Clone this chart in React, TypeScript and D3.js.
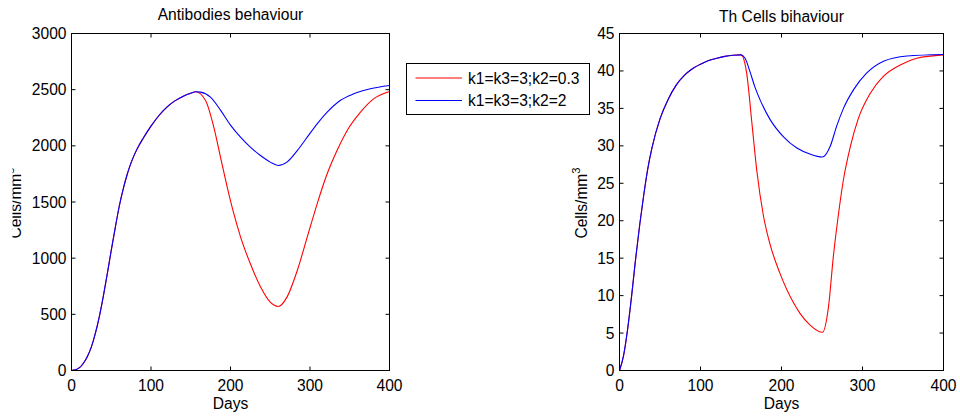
import React from "react";
import * as d3 from "d3";

// ---------- Data ----------
// Antibodies: shared rise, then divergence after ~157 days
const abSharedDays = [0, 5, 10, 15, 20, 25, 30, 35, 40, 45, 50, 55, 60, 65, 70, 75, 80, 85, 90, 100, 110, 120, 130, 140, 150, 156];
const abSharedVals = [0, 6, 25, 65, 125, 210, 330, 480, 660, 860, 1070, 1270, 1460, 1615, 1745, 1850, 1935, 2005, 2065, 2175, 2270, 2345, 2400, 2440, 2468, 2481];
const abRedDays = [168.6, 179, 187.4, 195.8, 204, 212.6, 225, 237.7, 250, 260, 271, 284, 296.5, 309, 321.6, 334, 346.8, 363.5, 380, 400];
const abRedVals = [2404, 2166, 1899, 1635, 1400, 1190, 950, 745, 608, 570, 653, 890, 1187, 1484, 1751, 1958, 2137, 2300, 2418, 2484];
const abBlueDays = [162, 174.8, 187.4, 200, 212.6, 225, 237.7, 250, 260, 271, 284, 296.5, 309, 321.6, 338, 355, 376, 400];
const abBlueVals = [2478, 2433, 2318, 2185, 2077, 1988, 1914, 1855, 1825, 1855, 1958, 2077, 2196, 2300, 2404, 2463, 2508, 2537];

// Th cells: shared rise, then divergence after 150 days
const thSharedDays = [0, 5, 10, 15, 20, 25, 30, 35, 40, 50, 60, 70, 80, 90, 100, 110, 120, 130, 140, 150];
const thSharedVals = [0, 2, 5.5, 10, 15, 19.5, 23.5, 27, 29.7, 33.6, 36.2, 38.1, 39.4, 40.3, 40.9, 41.4, 41.7, 41.95, 42.1, 42.15];
const thRedDays = [157, 163.5, 169.6, 177.8, 186, 198, 215, 223, 235, 250.6, 258, 264, 270, 276.5, 285, 295, 309.5, 326, 346.5, 367, 400];
const thRedVals = [39.7, 33.0, 26.6, 20.6, 16.8, 13.0, 9.0, 7.6, 6.1, 5.1, 8.5, 15.2, 20.6, 25.5, 29.9, 33.7, 37.0, 39.3, 40.8, 41.7, 42.15];
const thBlueDays = [155, 161.4, 167, 173.7, 186, 202.5, 219, 235, 250.6, 260, 268, 276.5, 289, 305, 326, 355, 400];
const thBlueVals = [41.7, 39.8, 37.9, 36.1, 33.5, 31.2, 29.7, 28.9, 28.5, 29.9, 32.6, 35.0, 37.5, 39.7, 41.3, 42.0, 42.2];

const xTicks = [0, 100, 200, 300, 400];
const abYTicks = [0, 500, 1000, 1500, 2000, 2500, 3000];
const thYTicks = [0, 5, 10, 15, 20, 25, 30, 35, 40, 45];
const legendLabels = ["k1=k3=3;k2=0.3", "k1=k3=3;k2=2"];
const seriesColors = ["#ff0000", "#0000ff"];

const FONT = "'Liberation Sans', Arial, Helvetica, sans-serif";
const FS = 15.6;

type Pt = [number, number];
const zipPts = (xs: number[], ys: number[]): Pt[] => xs.map((x, i) => [x, ys[i]]);

interface PanelProps {
  left: number; right: number; top: number; bottom: number;
  yMax: number; yTicks: number[]; title: string; titleY: number;
  labelX: number; clipLabel?: boolean;
  red: Pt[]; blue: Pt[]; id: string;
}

function Panel(p: PanelProps) {
  const x = d3.scaleLinear().domain([0, 400]).range([p.left, p.right]);
  const y = d3.scaleLinear().domain([0, p.yMax]).range([p.bottom, p.top]);
  const line = d3.line<Pt>().x(d => x(d[0])).y(d => y(d[1])).curve(d3.curveMonotoneX);
  const tl = 4;
  const cx = (p.left + p.right) / 2;
  const cy = (p.top + p.bottom) / 2;
  return (
    <g>
      <defs>
        <clipPath id={"clip-" + p.id}>
          <rect x={p.left} y={p.top} width={p.right - p.left} height={p.bottom - p.top} />
        </clipPath>
        <clipPath id={"lab-" + p.id}>
          <rect x={12.5} y={0} width={200} height={417} />
        </clipPath>
      </defs>
      <g clipPath={`url(#clip-${p.id})`}>
        <path d={line(p.red) || ""} fill="none" stroke={seriesColors[0]} strokeWidth={1.1} />
        <path d={line(p.blue) || ""} fill="none" stroke={seriesColors[1]} strokeWidth={1.1} />
      </g>
      <rect x={p.left} y={p.top} width={p.right - p.left} height={p.bottom - p.top} fill="none" stroke="#000" strokeWidth={1} />
      {xTicks.map(t => (
        <g key={"x" + t}>
          <line x1={x(t)} x2={x(t)} y1={p.bottom} y2={p.bottom - tl} stroke="#000" />
          <line x1={x(t)} x2={x(t)} y1={p.top} y2={p.top + tl} stroke="#000" />
          <text x={x(t)} y={p.bottom + 20} textAnchor="middle" fontFamily={FONT} fontSize={FS} fill="#000">{t}</text>
        </g>
      ))}
      {p.yTicks.map(t => (
        <g key={"y" + t}>
          <line x1={p.left} x2={p.left + tl} y1={y(t)} y2={y(t)} stroke="#000" />
          <line x1={p.right} x2={p.right - tl} y1={y(t)} y2={y(t)} stroke="#000" />
          <text x={p.left - 5} y={y(t) + 5.5} textAnchor="end" fontFamily={FONT} fontSize={FS} fill="#000">{t}</text>
        </g>
      ))}
      <text x={cx} y={p.bottom + 38} textAnchor="middle" fontFamily={FONT} fontSize={FS} fill="#000">Days</text>
      <text x={cx} y={p.titleY} textAnchor="middle" fontFamily={FONT} fontSize={FS} fill="#000">{p.title}</text>
      <g clipPath={p.clipLabel ? `url(#lab-${p.id})` : undefined}>
        <text transform={`translate(${p.labelX},${cy + 1}) rotate(-90)`} textAnchor="middle" fontFamily={FONT} fontSize={FS} fill="#000">
          Cells/mm<tspan fontSize={FS * 0.72} dy={-7}>3</tspan>
        </text>
      </g>
    </g>
  );
}

export default function App() {
  const abRed = zipPts(abSharedDays, abSharedVals).concat(zipPts(abRedDays, abRedVals));
  const abBlue = zipPts(abSharedDays, abSharedVals).concat(zipPts(abBlueDays, abBlueVals));
  const thRed = zipPts(thSharedDays, thSharedVals).concat(zipPts(thRedDays, thRedVals));
  const thBlue = zipPts(thSharedDays, thSharedVals).concat(zipPts(thBlueDays, thBlueVals));

  const lg = { x: 406.5, y: 63.5, w: 183, h: 51 };
  return (
    <svg width={960} height={417} style={{ position: "absolute", left: 0, top: 0, background: "#fff" }}>
      <rect x={0} y={0} width={960} height={417} fill="#fff" />
      <Panel id="ab" left={71.5} right={389.5} top={33.5} bottom={370.5} yMax={3000} yTicks={abYTicks}
        title="Antibodies behaviour" titleY={20} labelX={21} clipLabel red={abRed} blue={abBlue} />
      <Panel id="th" left={619.5} right={943.5} top={33.5} bottom={370.5} yMax={45} yTicks={thYTicks}
        title="Th Cells bihaviour" titleY={21.5} labelX={587} red={thRed} blue={thBlue} />
      <g>
        <rect x={lg.x} y={lg.y} width={lg.w} height={lg.h} fill="#fff" stroke="#000" strokeWidth={1} />
        {legendLabels.map((l, i) => (
          <g key={l}>
            <line x1={415.5} x2={462} y1={78 + i * 22.5} y2={78 + i * 22.5} stroke={seriesColors[i]} strokeWidth={1.1} />
            <text x={468} y={83.5 + i * 22} fontFamily={FONT} fontSize={FS} fill="#000">{l}</text>
          </g>
        ))}
      </g>
    </svg>
  );
}
